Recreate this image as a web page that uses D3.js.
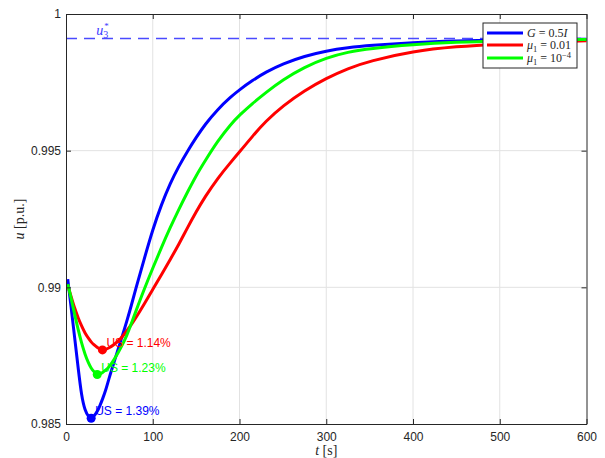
<!DOCTYPE html>
<html>
<head>
<meta charset="utf-8">
<script src="https://cdn.jsdelivr.net/npm/d3@7/dist/d3.min.js"></script>
<style>
  body { margin: 0; background: #fff; }
  text { font-family: 'Liberation Sans', Arial, sans-serif; }
  .tex { font-family: 'Liberation Serif', 'Times New Roman', serif; }
</style>
</head>
<body>
<div id="chart"></div>
<script>
// Data
const times = [2, 6, 10, 14, 18, 22, 26, 29, 32, 36, 39, 42, 46, 50, 55, 60, 65, 70, 75, 80, 90, 100, 110, 120, 130, 140, 150, 160, 175, 190, 200, 215, 230, 250, 275, 300, 325, 350, 400, 450, 500, 550, 600];

const uGain = [0.9903, 0.98925, 0.98815, 0.98705, 0.986, 0.98548, 0.98526, 0.98521, 0.98527, 0.98545, 0.98566, 0.9859, 0.98625, 0.98672, 0.98722, 0.98773, 0.98822, 0.98875, 0.9893, 0.9899, 0.99102, 0.99212, 0.99303, 0.9938, 0.99443, 0.99498, 0.99548, 0.99595, 0.99652, 0.99697, 0.99723, 0.99757, 0.99787, 0.99818, 0.99846, 0.99865, 0.99877, 0.99885, 0.99896, 0.99902, 0.99905, 0.99907, 0.99908];

const uMu001 = [0.99008, 0.98965, 0.98923, 0.98888, 0.98858, 0.98832, 0.98813, 0.988, 0.9879, 0.9878, 0.98774, 0.98771, 0.98773, 0.98779, 0.9879, 0.98802, 0.9882, 0.9884, 0.98862, 0.98886, 0.98938, 0.98992, 0.99046, 0.99101, 0.99157, 0.99218, 0.99276, 0.9933, 0.994, 0.99458, 0.99495, 0.99553, 0.99607, 0.99664, 0.9972, 0.99765, 0.99801, 0.99828, 0.99864, 0.99881, 0.99891, 0.99898, 0.99902];

const uMu1e4 = [0.99012, 0.9896, 0.989, 0.98845, 0.98795, 0.98754, 0.98722, 0.98704, 0.98692, 0.98681, 0.98683, 0.98688, 0.98697, 0.9871, 0.98733, 0.9876, 0.9879, 0.98823, 0.98865, 0.98908, 0.98992, 0.9907, 0.99146, 0.99218, 0.99285, 0.99348, 0.99409, 0.99461, 0.99536, 0.99597, 0.9963, 0.99673, 0.99712, 0.9976, 0.99806, 0.9984, 0.99861, 0.99874, 0.99888, 0.99897, 0.99902, 0.99905, 0.99907];

const seriesColors = ['#0000ff', '#ff0000', '#00ff00'];
const dipTimes = [29, 42, 36];
const dipValues = [0.98521, 0.98771, 0.98681];
const dipLabels = ['US = 1.39%', 'US = 1.14%', 'US = 1.23%'];

const uRef = 0.9991;
const xTicks = [0, 100, 200, 300, 400, 500, 600];
const yTicks = [0.985, 0.99, 0.995, 1];
const yTickLabels = ['0.985', '0.99', '0.995', '1'];

function draw() {
  // Dimensions
  let dimensions = {
    width: 605,
    height: 458,
    margins: { top: 14, right: 18.5, bottom: 34, left: 66 },
  };
  dimensions.ctrWidth = dimensions.width - dimensions.margins.left - dimensions.margins.right;
  dimensions.ctrHeight = dimensions.height - dimensions.margins.top - dimensions.margins.bottom;

  const svg = d3 //
    .select('#chart')
    .append('svg')
    .attr('width', dimensions.width)
    .attr('height', dimensions.height);

  const ctr = svg
    .append('g') //
    .attr('transform', `translate(${dimensions.margins.left}, ${dimensions.margins.top})`);

  // Scales
  const xScale = d3.scaleLinear().domain([0, 600]).range([0, dimensions.ctrWidth]);
  const yScale = d3.scaleLinear().domain([0.985, 1]).range([dimensions.ctrHeight, 0]);

  // Grid
  const grid = ctr.append('g').attr('stroke', '#e2e2e2').attr('stroke-width', 1);
  grid
    .selectAll('.gx')
    .data(xTicks.slice(1, -1))
    .join('line')
    .attr('x1', (d) => xScale(d))
    .attr('x2', (d) => xScale(d))
    .attr('y1', 0)
    .attr('y2', dimensions.ctrHeight);
  grid
    .selectAll('.gy')
    .data(yTicks.slice(1, -1))
    .join('line')
    .attr('x1', 0)
    .attr('x2', dimensions.ctrWidth)
    .attr('y1', (d) => yScale(d))
    .attr('y2', (d) => yScale(d));

  // Reference line u3*
  ctr
    .append('line')
    .attr('x1', xScale(0))
    .attr('x2', xScale(600))
    .attr('y1', yScale(uRef))
    .attr('y2', yScale(uRef))
    .attr('stroke', '#4a4aff')
    .attr('stroke-width', 1.5)
    .attr('stroke-dasharray', '11,7');

  const refLabel = ctr
    .append('text')
    .classed('tex', true)
    .attr('x', xScale(35))
    .attr('y', yScale(uRef) - 4)
    .attr('fill', '#3a3aff')
    .attr('font-size', 14);
  refLabel.append('tspan').attr('font-style', 'italic').text('u');
  refLabel.append('tspan').attr('font-size', 10).attr('dy', 3).text('3');
  refLabel.append('tspan').attr('font-size', 9).attr('dx', -4).attr('dy', -9).text('*');

  // Lines
  const series = [uGain, uMu001, uMu1e4];
  const line = d3
    .line()
    .x((d, i) => xScale(times[i]))
    .y((d) => yScale(d))
    .curve(d3.curveBasis);

  ctr
    .selectAll('.series')
    .data(series)
    .join('path')
    .attr('fill', 'none')
    .attr('stroke', (d, i) => seriesColors[i])
    .attr('stroke-width', 3)
    .attr('stroke-linejoin', 'round')
    .attr('d', line);

  // Undershoot markers
  ctr
    .selectAll('.dip')
    .data(dipTimes)
    .join('circle')
    .attr('cx', (d) => xScale(d))
    .attr('cy', (d, i) => yScale(dipValues[i]))
    .attr('r', 4.5)
    .attr('fill', (d, i) => seriesColors[i]);

  ctr
    .selectAll('.dip-label')
    .data(dipLabels)
    .join('text')
    .attr('x', (d, i) => xScale(dipTimes[i]) + 4)
    .attr('y', (d, i) => yScale(dipValues[i]) - 7)
    .attr('dominant-baseline', 'central')
    .attr('font-size', 12)
    .attr('fill', (d, i) => seriesColors[i])
    .text((d) => d);

  // Axes (MATLAB style box, ticks inward)
  const styleAxis = (g) => {
    g.select('.domain').attr('stroke', '#262626');
    g.selectAll('.tick line').attr('stroke', '#262626');
    g.selectAll('.tick text').attr('fill', '#262626').attr('font-size', 12).attr('font-family', 'Liberation Sans, Arial, sans-serif');
  };

  ctr
    .append('g')
    .attr('transform', `translate(0, ${dimensions.ctrHeight})`)
    .call(d3.axisBottom(xScale).tickValues(xTicks).tickSizeInner(-5).tickSizeOuter(0).tickPadding(8))
    .call(styleAxis);

  ctr
    .append('g')
    .call(d3.axisTop(xScale).tickValues(xTicks).tickSizeInner(-5).tickSizeOuter(0).tickFormat(''))
    .call(styleAxis);

  ctr
    .append('g')
    .call(
      d3
        .axisLeft(yScale)
        .tickValues(yTicks)
        .tickFormat((d, i) => yTickLabels[i])
        .tickSizeInner(-5)
        .tickSizeOuter(0)
        .tickPadding(5)
    )
    .call(styleAxis);

  ctr
    .append('g')
    .attr('transform', `translate(${dimensions.ctrWidth}, 0)`)
    .call(d3.axisRight(yScale).tickValues(yTicks).tickSizeInner(-5).tickSizeOuter(0).tickFormat(''))
    .call(styleAxis);

  // Axis labels
  const xLabel = svg
    .append('text')
    .classed('tex', true)
    .attr('x', dimensions.margins.left + dimensions.ctrWidth / 2)
    .attr('y', 455)
    .attr('text-anchor', 'middle')
    .attr('font-size', 14)
    .attr('fill', '#262626');
  xLabel.append('tspan').attr('font-style', 'italic').text('t');
  xLabel.append('tspan').text(' [s]');

  const yLabel = svg
    .append('text')
    .classed('tex', true)
    .attr('transform', `translate(24, ${dimensions.margins.top + dimensions.ctrHeight / 2}) rotate(-90)`)
    .attr('text-anchor', 'middle')
    .attr('font-size', 14)
    .attr('fill', '#262626');
  yLabel.append('tspan').attr('font-style', 'italic').text('u');
  yLabel.append('tspan').text(' [p.u.]');

  // Legend
  const legend = svg.append('g').attr('transform', 'translate(483, 23)');
  legend
    .append('rect')
    .attr('width', 94)
    .attr('height', 45)
    .attr('fill', '#fff')
    .attr('stroke', '#262626')
    .attr('stroke-width', 1);

  const rowY = [10, 22, 35];
  legend
    .selectAll('.lg-line')
    .data(seriesColors)
    .join('line')
    .attr('x1', 4)
    .attr('x2', 40)
    .attr('y1', (d, i) => rowY[i])
    .attr('y2', (d, i) => rowY[i])
    .attr('stroke', (d) => d)
    .attr('stroke-width', 3);

  const lgText = (i) =>
    legend
      .append('text')
      .classed('tex', true)
      .attr('x', 44)
      .attr('y', rowY[i] + 4)
      .attr('font-size', 12)
      .attr('fill', '#262626');

  const t0 = lgText(0);
  t0.append('tspan').attr('font-style', 'italic').text('G');
  t0.append('tspan').text(' = 0.5');
  t0.append('tspan').attr('font-style', 'italic').text('I');

  const t1 = lgText(1);
  t1.append('tspan').attr('font-style', 'italic').text('μ');
  t1.append('tspan').attr('font-size', 8.5).attr('dy', 3).text('1');
  t1.append('tspan').attr('dy', -3).text(' = 0.01');

  const t2 = lgText(2);
  t2.append('tspan').attr('font-style', 'italic').text('μ');
  t2.append('tspan').attr('font-size', 8.5).attr('dy', 3).text('1');
  t2.append('tspan').attr('dy', -3).text(' = 10');
  t2.append('tspan').attr('font-size', 8.5).attr('dy', -4).text('−4');
}

draw();
</script>
</body>
</html>
